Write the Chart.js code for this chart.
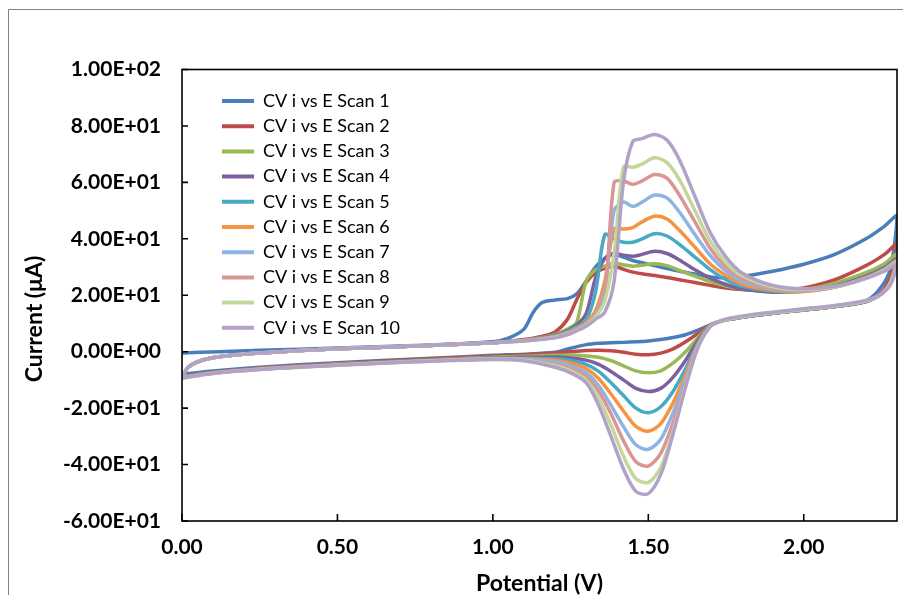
<!DOCTYPE html>
<html>
<head>
<meta charset="utf-8">
<script src="https://cdn.jsdelivr.net/npm/chart.js@4.4.0/dist/chart.umd.min.js"></script>
<style>
  html, body { margin: 0; padding: 0; background: #fff; }
  canvas { display: block; }
</style>
</head>
<body>
<canvas id="cvChart" width="903" height="595"></canvas>
<script>
const scanNames = [
  "CV i vs E Scan 1", "CV i vs E Scan 2", "CV i vs E Scan 3", "CV i vs E Scan 4", "CV i vs E Scan 5",
  "CV i vs E Scan 6", "CV i vs E Scan 7", "CV i vs E Scan 8", "CV i vs E Scan 9", "CV i vs E Scan 10"
];
const scanColors = ["#4A7EBB", "#BE4B48", "#98B954", "#7D60A0", "#46AAC5", "#F69240", "#8EB4E3", "#DA9694", "#C3D79B", "#B3A2C7"];

// potentials (V) of the forward sweep 0 -> 2.3 and the return sweep 2.3 -> 0
const forwardE = [0, 0.02, 0.06, 0.12, 0.25, 0.5, 0.75, 1.0, 1.05, 1.1, 1.13, 1.16, 1.2, 1.24, 1.27, 1.30, 1.33, 1.36, 1.39, 1.42, 1.45, 1.48, 1.52, 1.56, 1.60, 1.65, 1.70, 1.75, 1.80, 1.90, 2.00, 2.10, 2.20, 2.26, 2.30];
const reverseE = [2.28, 2.25, 2.20, 2.10, 2.00, 1.90, 1.80, 1.74, 1.70, 1.66, 1.62, 1.58, 1.54, 1.50, 1.46, 1.42, 1.38, 1.34, 1.30, 1.25, 1.20, 1.10, 1.00, 0.75, 0.50, 0.25, 0.10, 0.00];

// currents (uA), forward sweep
const scan1Fwd = [-0.5, -0.4, -0.2, 0, 0.5, 1.3, 2.2, 3.5, 4.8, 8, 14, 17.5, 18.3, 18.8, 20.5, 25, 30, 33, 34.5, 33.5, 32.3, 31.5, 30.5, 29.5, 28.5, 27.5, 26.5, 26.2, 26.6, 28.5, 31, 34.5, 40, 44.5, 48];
const scan2Fwd = [-9, -5.5, -3.2, -1.8, -0.5, 1, 2, 3.2, 3.7, 4.3, 4.8, 5.5, 7, 11.5, 18.5, 24.5, 28, 29.5, 30.3, 29.2, 28.2, 27.6, 27, 26.3, 25.5, 24.5, 23.5, 22.6, 22, 21.4, 22.6, 25.5, 30.5, 34.5, 38];
const scan3Fwd = [-9, -5.5, -3.2, -1.8, -0.5, 1, 2, 3.2, 3.6, 4.1, 4.5, 5, 6, 8, 10.5, 25, 29, 30.3, 31.3, 30.8, 30.3, 30.6, 31.2, 30.5, 28.8, 26.8, 24.8, 23.3, 22.3, 21.4, 22, 24.3, 28, 31.2, 34.5];
const scan4Fwd = [-9, -5.5, -3.2, -1.8, -0.5, 1, 2, 3.2, 3.6, 4, 4.4, 4.9, 5.8, 7.5, 9.5, 13.5, 26, 33, 34.8, 34.2, 33.8, 34.5, 35.6, 34.8, 32.5, 29, 26, 23.8, 22.3, 21.1, 21.6, 23.3, 26.8, 29.8, 32.8];
const scan5Fwd = [-9, -5.5, -3.2, -1.8, -0.5, 1, 2, 3.2, 3.6, 4, 4.3, 4.8, 5.6, 7.2, 8.8, 11.2, 21, 41.5, 40, 38.8, 38.8, 40, 41.8, 41, 38, 33.5, 29, 25.5, 23.2, 21.4, 21.4, 23, 26.3, 29.3, 32.3];
const scan6Fwd = [-9, -5.5, -3.2, -1.8, -0.5, 1, 2, 3.2, 3.6, 4, 4.3, 4.7, 5.4, 6.8, 8.3, 10.3, 14.5, 25, 43.5, 43.5, 44, 46, 48, 47, 43, 37, 31, 27, 24, 21.8, 21.3, 22.9, 26.2, 29.2, 32.2];
const scan7Fwd = [-9, -5.5, -3.2, -1.8, -0.5, 1, 2, 3.2, 3.6, 3.9, 4.2, 4.6, 5.3, 6.6, 8, 9.8, 13.2, 22, 50, 53, 51.5, 53, 55.5, 54.5, 49.5, 41.5, 34, 28.5, 25, 22.3, 21.5, 22.9, 26.1, 29.1, 32];
const scan8Fwd = [-9, -5.5, -3.2, -1.8, -0.5, 1, 2, 3.2, 3.5, 3.9, 4.2, 4.6, 5.2, 6.4, 7.8, 9.6, 12.8, 20, 60, 60.5, 59.3, 60.5, 62.8, 61.5, 55.5, 46, 36.5, 30, 26, 22.7, 21.7, 22.9, 26, 29, 31.8];
const scan9Fwd = [-9, -5.5, -3.2, -1.8, -0.5, 1, 2, 3.2, 3.5, 3.8, 4.1, 4.5, 5, 6.2, 7.6, 9.3, 12.3, 18, 35, 65.5, 65.3, 66.5, 68.7, 67, 61, 50, 39, 31.5, 27, 23, 22, 23, 26, 28.8, 31.5];
const scan10Fwd = [-9, -5.5, -3.2, -1.8, -0.5, 1, 2, 3.2, 3.5, 3.8, 4.1, 4.4, 4.9, 6, 7.4, 9, 11.5, 14, 25, 60, 74.5, 75.5, 77, 75, 68, 55, 42, 33.5, 28, 23.5, 22.3, 23.2, 26, 28.5, 31];

// currents (uA), return sweep
const scan1Rev = [30, 23, 18, 16, 14.8, 13.6, 12.2, 11, 9.5, 7.6, 6, 5, 4.3, 3.8, 3.5, 3.3, 3.2, 3, 2.5, 1.2, -0.2, -0.9, -1.3, -2.6, -3.9, -5.5, -6.8, -8];
const scan2Rev = [27, 21, 17.8, 16, 14.8, 13.6, 12.2, 11, 9.5, 6.5, 3.5, 1, -0.5, -1.1, -0.9, -0.2, 0.3, 0.5, 0.4, 0, -0.5, -1.1, -1.6, -2.8, -4.2, -5.9, -7.3, -8.7];
const scan3Rev = [25, 20.5, 17.8, 16, 14.8, 13.6, 12.2, 11, 9.5, 5, 0, -4, -6.8, -7.5, -6.8, -5, -3.2, -2, -1.5, -1.2, -1.3, -1.6, -2, -3.1, -4.4, -6, -7.4, -8.9];
const scan4Rev = [24.5, 20.5, 17.8, 16, 14.8, 13.6, 12.2, 11, 9.3, 4, -3, -9, -13, -14.1, -13, -10, -7, -4.5, -3, -2.2, -1.9, -2, -2.2, -3.2, -4.5, -6, -7.4, -9];
const scan5Rev = [24.5, 20.5, 17.8, 16, 14.8, 13.6, 12.2, 11, 9.2, 3, -6, -14, -19.5, -21.6, -20, -15.5, -11, -7, -4.5, -3, -2.5, -2.3, -2.3, -3.3, -4.6, -6.1, -7.5, -9];
const scan6Rev = [24.5, 20.5, 17.9, 16.1, 14.9, 13.7, 12.3, 11, 9.1, 2.5, -8, -18, -25.5, -28.2, -26.5, -21, -15, -9.5, -6, -4, -3, -2.5, -2.4, -3.4, -4.6, -6.1, -7.5, -9.1];
const scan7Rev = [24.5, 20.5, 17.9, 16.1, 14.9, 13.7, 12.3, 11, 9, 2, -9.5, -21.5, -31, -34.6, -33, -26.5, -19, -12, -7.5, -5, -3.6, -2.7, -2.5, -3.4, -4.7, -6.2, -7.6, -9.2];
const scan8Rev = [24.5, 20.5, 18, 16.2, 15, 13.8, 12.4, 11.1, 9, 2, -11, -25, -36, -40.5, -39, -31.5, -22, -14, -8.8, -6, -4.5, -2.9, -2.6, -3.5, -4.7, -6.2, -7.6, -9.2];
const scan9Rev = [24.5, 20.5, 18, 16.2, 15, 13.8, 12.4, 11.1, 9, 1.8, -12, -28, -41, -46.3, -45, -37, -26, -16.5, -10, -6.8, -5, -3, -2.7, -3.5, -4.8, -6.3, -7.7, -9.3];
const scan10Rev = [24, 20.5, 18.2, 16.4, 15.2, 14, 12.6, 11.3, 9, 1.5, -12.5, -29, -43.5, -50.3, -49.5, -41.5, -30, -19, -11, -7.5, -5.5, -3.2, -2.8, -3.6, -4.8, -6.3, -7.7, -9.3];

const xTicks = [0, 0.5, 1, 1.5, 2];
const xTickLabels = ["0.00", "0.50", "1.00", "1.50", "2.00"];
const yTicks = [-60, -40, -20, 0, 20, 40, 60, 80, 100];
const yTickLabels = ["-6.00E+01", "-4.00E+01", "-2.00E+01", "0.00E+00", "2.00E+01", "4.00E+01", "6.00E+01", "8.00E+01", "1.00E+02"];
const yTitle = "Current (μA)";

const forwardCurrents = [scan1Fwd, scan2Fwd, scan3Fwd, scan4Fwd, scan5Fwd, scan6Fwd, scan7Fwd, scan8Fwd, scan9Fwd, scan10Fwd];
const reverseCurrents = [scan1Rev, scan2Rev, scan3Rev, scan4Rev, scan5Rev, scan6Rev, scan7Rev, scan8Rev, scan9Rev, scan10Rev];

const fontFamily = "Lato, 'Open Sans', sans-serif";

const datasets = scanNames.map((name, i) => {
  const fwd = forwardE.map((e, k) => ({ x: e, y: forwardCurrents[i][k] }));
  const rev = reverseE.map((e, k) => ({ x: e, y: reverseCurrents[i][k] }));
  return {
    label: name,
    data: fwd.concat(rev),
    borderColor: scanColors[i],
    backgroundColor: scanColors[i],
    borderWidth: 3.5,
    borderCapStyle: "round",
    borderJoinStyle: "round",
    pointRadius: 0,
    tension: 0.3,
    showLine: true,
    order: scanNames.length - i // later scans on top
  };
});

// outer frame, plot box, inside tick marks, y title, legend offset
const framePlugin = {
  id: "frame",
  beforeDraw(chart) {
    const { ctx, chartArea } = chart;
    ctx.save();
    ctx.strokeStyle = "#808080";
    ctx.lineWidth = 1;
    ctx.beginPath();
    ctx.moveTo(8.5, 595);
    ctx.lineTo(8.5, 9.5);
    ctx.lineTo(903, 9.5);
    ctx.stroke();
    ctx.restore();
    chart.legend.left = chartArea.left + 32.8;
    chart.legend.top = chartArea.top + 15.3;
  },
  afterDraw(chart) {
    const { ctx, chartArea: a, scales } = chart;
    ctx.save();
    ctx.strokeStyle = "#000";
    ctx.lineWidth = 1.6;
    ctx.strokeRect(a.left, a.top, a.right - a.left, a.bottom - a.top);
    ctx.beginPath();
    scales.y.ticks.forEach((t) => {
      const py = scales.y.getPixelForValue(t.value);
      ctx.moveTo(a.left, py);
      ctx.lineTo(a.left + 6, py);
    });
    scales.x.ticks.forEach((t) => {
      const px = scales.x.getPixelForValue(t.value);
      ctx.moveTo(px, a.bottom);
      ctx.lineTo(px, a.bottom - 7);
    });
    ctx.stroke();

    // y axis title sits a little below the plot centre in the original
    ctx.translate(35, 319);
    ctx.rotate(-Math.PI / 2);
    ctx.font = "bold 23px " + fontFamily;
    ctx.fillStyle = "#000";
    ctx.textAlign = "center";
    ctx.textBaseline = "middle";
    ctx.fillText(yTitle, 0, 0);
    ctx.restore();
  }
};

Chart.defaults.font.family = fontFamily;
Chart.defaults.color = "#000";

const ctx = document.getElementById("cvChart").getContext("2d");
const cvChart = new Chart(ctx, {
  type: "scatter",
  data: { datasets: datasets },
  options: {
    responsive: false,
    animation: false,
    devicePixelRatio: 1,
    layout: { padding: { top: 69.5, right: 6, bottom: 0, left: 0 } },
    plugins: {
      tooltip: { enabled: false },
      legend: {
        position: "chartArea",
        align: "start",
        labels: {
          boxWidth: 32,
          boxHeight: 4,
          padding: 7.2,
          font: { size: 18 },
          color: "#000",
          sort: (a, b) => a.datasetIndex - b.datasetIndex,
          generateLabels: (chart) =>
            Chart.defaults.plugins.legend.labels.generateLabels(chart).map((item) =>
              Object.assign(item, { fillStyle: item.strokeStyle, lineWidth: 0 })
            )
        }
      }
    },
    scales: {
      x: {
        type: "linear",
        min: 0,
        max: 2.3,
        grid: { display: false, drawTicks: false },
        border: { display: false },
        afterBuildTicks: (scale) => { scale.ticks = xTicks.map((v) => ({ value: v })); },
        afterFit: (scale) => { scale.height = 74; },
        ticks: {
          padding: 14,
          font: { size: 21, weight: "bold" },
          callback: (value, index) => xTickLabels[index]
        },
        title: {
          display: true,
          text: "Potential (V)",
          font: { size: 23, weight: "bold", lineHeight: 1 },
          padding: { top: 0, bottom: 0 }
        }
      },
      y: {
        type: "linear",
        min: -60,
        max: 100,
        grid: { display: false, drawTicks: false },
        border: { display: false },
        afterBuildTicks: (scale) => { scale.ticks = yTicks.map((v) => ({ value: v })); },
        afterFit: (scale) => { scale.width = 182; },
        ticks: {
          padding: 21,
          font: { size: 21, weight: "bold" },
          callback: (value, index) => yTickLabels[index]
        }
      }
    }
  },
  plugins: [framePlugin]
});
</script>
</body>
</html>
